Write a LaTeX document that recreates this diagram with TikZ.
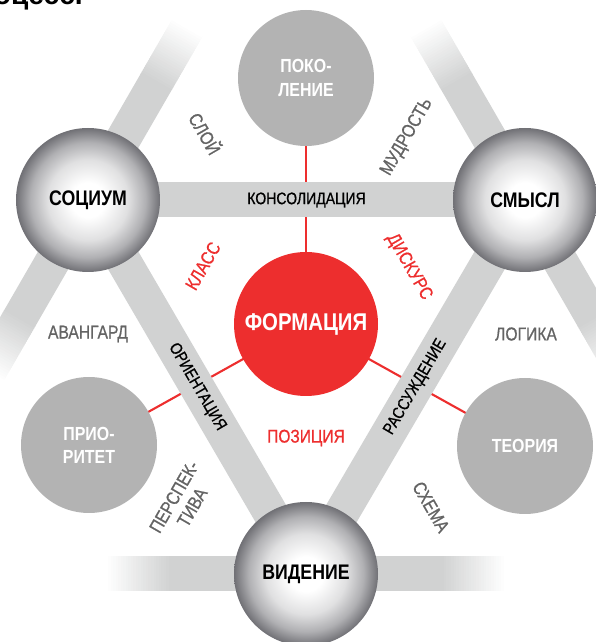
\documentclass[tikz,border=0pt]{standalone}
\usepackage{fontspec}
\setmainfont[FakeStretch=0.84]{Liberation Sans}
\newfontfamily\titlefont{Liberation Sans}
\newfontfamily\medfont[FakeStretch=0.84, FakeBold=0.8]{Liberation Sans}
\usepackage{tikz}
\usetikzlibrary{backgrounds}
\definecolor{formred}{RGB}{237,46,46}
\definecolor{topicgray}{RGB}{179,179,179}
\definecolor{bargray}{RGB}{209,210,210}
\definecolor{labelgray}{RGB}{100,100,100}
\definecolor{spherelight}{RGB}{224,224,225}
\definecolor{spheremid}{RGB}{176,176,179}
\definecolor{sphereedge}{RGB}{112,112,117}
\pgfdeclareradialshading{spherebulb}{\pgfpoint{0bp}{0bp}}{color(0bp)=(white); color(6bp)=(white); color(14bp)=(spherelight); color(20bp)=(spheremid); color(25bp)=(sphereedge); color(50bp)=(sphereedge)}
% gray bar leaving a sphere and fading out
\newcommand{\fadebar}[2]{%
    \begin{scope}[shift={(#1.center)}, rotate=#2]
        \fill[bargray] (0,-0.35) rectangle (2.72,0.35);
        \foreach \i in {0,...,25} {
            \pgfmathsetmacro{\shadeval}{100-4*\i}
            \fill[bargray!\shadeval!white] ({2.7+0.05*\i},-0.35) rectangle ({2.77+0.05*\i},0.35);
        }
    \end{scope}}

\begin{document}
\begin{tikzpicture}[
    sphere/.style={circle, shading=spherebulb, minimum size=2.88cm, inner sep=0pt, font=\bfseries\fontsize{12}{14}\selectfont},
    topic/.style={circle, fill=topicgray, minimum size=2.72cm, inner sep=0pt, align=center, text=white, font=\bfseries\fontsize{10.8}{13.2}\selectfont},
    core/.style={circle, fill=formred, minimum size=2.88cm, inner sep=0pt, text=white, font=\bfseries\fontsize{13.8}{16}\selectfont},
    link/.style={formred, line width=1.2pt},
    bar/.style={bargray, line width=0.7cm},
    barlabel/.style={font=\medfont\fontsize{9.5}{11}\selectfont},
    tag/.style={labelgray, align=center, font=\medfont\fontsize{10.6}{12}\selectfont},
    redtag/.style={formred, font=\medfont\fontsize{10.5}{12}\selectfont},
]
    \useasboundingbox (0,0) rectangle (11.92,12.84);

    \node[anchor=base east, font=\titlefont\bfseries\fontsize{16}{18}\selectfont] (title) at (1.78,12.74) {процесс.};

    % triangle of spheres
    \node[sphere] (soc) at (1.76, 8.84) {СОЦИУМ};
    \node[sphere] (sense) at (10.50, 8.84) {СМЫСЛ};
    \node[sphere] (vision) at (6.12, 1.36) {ВИДЕНИЕ};

    % centre and the three topics
    \node[core] (form) at (6.12, 6.36) {ФОРМАЦИЯ};
    \node[topic] (gen) at (6.12, 11.28) {ПОКО-\\ЛЕНИЕ};
    \node[topic] (prio) at (1.78, 3.94) {ПРИО-\\РИТЕТ};
    \node[topic] (theory) at (10.50, 3.92) {ТЕОРИЯ};

    \begin{scope}[on background layer]
        \draw[link] (form.center) -- (gen.center);
        \draw[link] (form.center) -- (prio.center);
        \draw[link] (form.center) -- (theory.center);

        \draw[bar] (soc.center) -- (sense.center);
        \draw[bar] (soc.center) -- (vision.center);
        \draw[bar] (sense.center) -- (vision.center);

        \fadebar{soc}{60}
        \fadebar{soc}{240}
        \fadebar{sense}{120}
        \fadebar{sense}{300}
        \fadebar{vision}{0}
        \fadebar{vision}{180}
    \end{scope}

    % texts on the bars
    \path (soc) -- node[barlabel] (cons) {КОНСОЛИДАЦИЯ} (sense);
    \path (soc) -- node[barlabel, sloped] (orient) {ОРИЕНТАЦИЯ} (vision);
    \path (vision) -- node[barlabel, sloped] (reason) {РАССУЖДЕНИЕ} (sense);

    % loose words
    \node[tag, rotate=-60] (layer) at (4.12, 10.18) {СЛОЙ};
    \node[tag, rotate=60] (wisdom) at (8.14, 10.10) {МУДРОСТЬ};
    \node[tag] (avant) at (1.76, 6.16) {АВАНГАРД};
    \node[tag] (logic) at (10.52, 6.16) {ЛОГИКА};
    \node[tag, rotate=60] (persp) at (3.66, 2.80) {ПЕРСПЕК-\\ТИВА};
    \node[tag, rotate=-60] (scheme) at (8.62, 2.70) {СХЕМА};

    \node[redtag, rotate=60] (class) at (4.06, 7.52) {КЛАСС};
    \node[redtag, rotate=-60] (disc) at (8.18, 7.50) {ДИСКУРС};
    \node[redtag] (pos) at (6.12, 4.08) {ПОЗИЦИЯ};
\end{tikzpicture}
\end{document}
